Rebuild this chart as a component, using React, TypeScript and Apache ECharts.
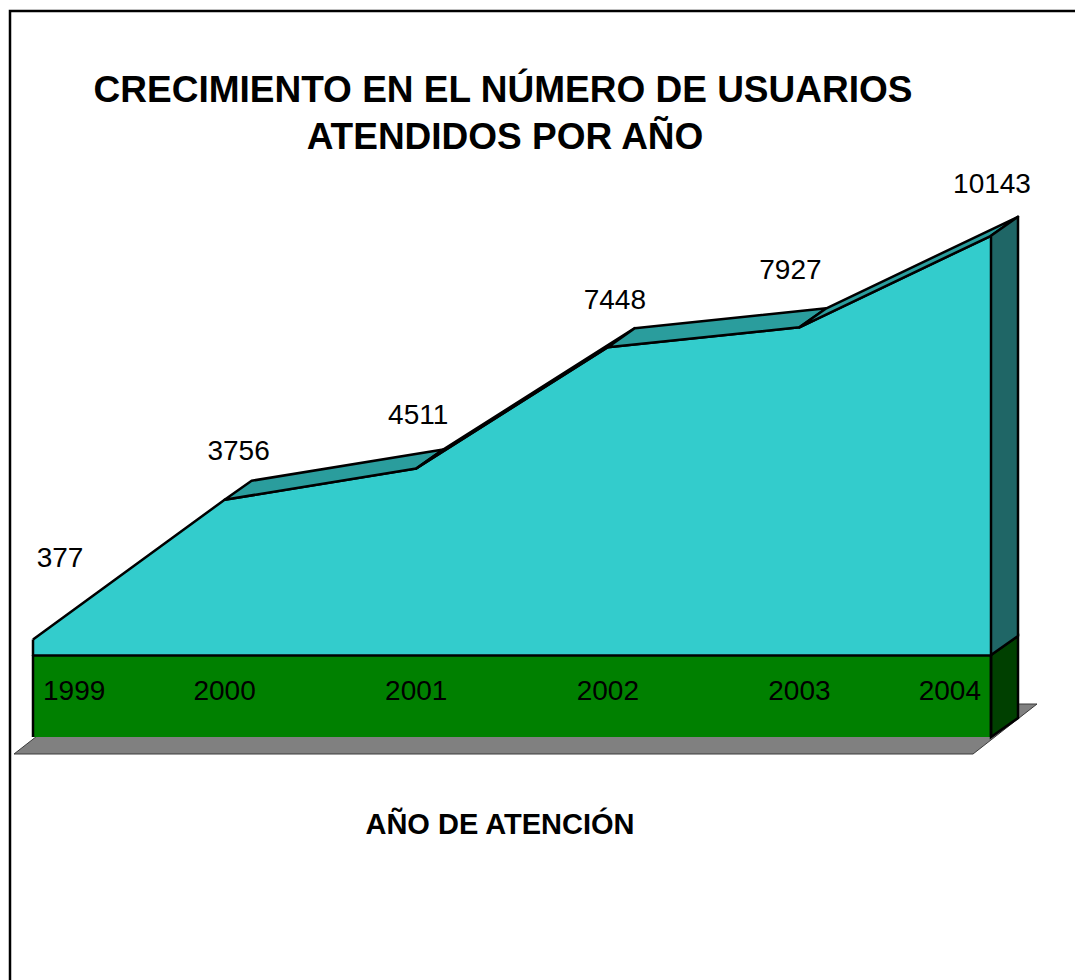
import React, { useEffect, useRef } from 'react';
import * as echarts from 'echarts';

const CATEGORIES = ['1999', '2000', '2001', '2002', '2003', '2004'];
const USERS = [377, 3756, 4511, 7448, 7927, 10143];
const TITLE_LINES = ['CRECIMIENTO EN EL NÚMERO DE USUARIOS', 'ATENDIDOS POR AÑO'];
const X_TITLE = 'AÑO DE ATENCIÓN';
const Y_MIN = 0;
const Y_MAX = 12000;

// label placement tweaks (style, not data)
const LABEL_OFFSETS = [[27, -67], [14, -35], [2, -40], [7, -33], [-9, -43], [1, -38]];

const DX = 27;
const DY = -19;
const BAND = 82;
const LW = 2.5;
const FONT = "'Liberation Sans', Arial, Helvetica, sans-serif";

const n = CATEGORIES.length;

function renderBase(params: any, api: any) {
  const p0 = api.coord([0, 0]);
  const p1 = api.coord([n - 1, 0]);
  const x0 = p0[0];
  const x1 = p1[0];
  const yb = p0[1];
  return {
    type: 'group',
    children: [
      {
        type: 'polygon',
        shape: { points: [[x0 - 19, yb + 99], [x1 - 18, yb + 99], [x1 + 46, yb + 49], [x0 + 45, yb + 49]] },
        style: { fill: '#808080', stroke: '#3a3a3a', lineWidth: 1 },
      },
      {
        type: 'rect',
        shape: { x: x0, y: yb, width: x1 - x0, height: BAND },
        style: { fill: '#008000' },
      },
      {
        type: 'polygon',
        shape: { points: [[x1, yb], [x1 + DX, yb + DY], [x1 + DX, yb + BAND + DY], [x1, yb + BAND]] },
        style: { fill: '#004000', stroke: '#000', lineWidth: LW },
      },
      {
        type: 'line',
        shape: { x1: x0, y1: yb, x2: x0, y2: yb + BAND },
        style: { stroke: '#000', lineWidth: LW },
      },
      {
        type: 'line',
        shape: { x1: x1, y1: yb, x2: x1, y2: yb + BAND },
        style: { stroke: '#000', lineWidth: LW },
      },
    ],
  };
}

function renderFaces(params: any, api: any) {
  const i = params.dataIndex;
  const p = api.coord([i, USERS[i]]);
  const base = api.coord([i, 0]);
  const children: any[] = [];
  if (i === 0) {
    children.push({
      type: 'line',
      shape: { x1: p[0], y1: p[1], x2: base[0], y2: base[1] },
      style: { stroke: '#000', lineWidth: LW },
    });
  }
  if (i < n - 1) {
    const q = api.coord([i + 1, USERS[i + 1]]);
    const dx = q[0] - p[0];
    const dy = q[1] - p[1];
    if (dx * DY - dy * DX < 0) {
      children.push({
        type: 'polygon',
        shape: { points: [[p[0], p[1]], [q[0], q[1]], [q[0] + DX, q[1] + DY], [p[0] + DX, p[1] + DY]] },
        style: { fill: '#2A9D9D', stroke: '#000', lineWidth: LW, lineJoin: 'round' },
      });
    }
  } else {
    children.push({
      type: 'polygon',
      shape: { points: [[p[0], p[1]], [p[0] + DX, p[1] + DY], [base[0] + DX, base[1] + DY], [base[0], base[1]]] },
      style: { fill: '#1F6666', stroke: '#000', lineWidth: LW, lineJoin: 'round' },
    });
  }
  return { type: 'group', children };
}

export default function App() {
  const ref = useRef<HTMLDivElement>(null);
  useEffect(() => {
    if (!ref.current) return;
    const chart = echarts.init(ref.current, null, { renderer: 'svg' });
    const option: any = {
      animation: false,
      backgroundColor: '#fff',
      grid: { left: 33, right: 84, top: 159, bottom: 325, containLabel: false },
      xAxis: {
        type: 'category',
        data: CATEGORIES,
        boundaryGap: false,
        z: 10,
        axisLine: { show: true, lineStyle: { color: '#000', width: LW } },
        axisTick: { show: false },
        splitLine: { show: false },
        axisLabel: {
          fontSize: 28,
          color: '#000',
          fontFamily: FONT,
          margin: 21,
          alignMinLabel: 'left',
          alignMaxLabel: 'right',
          padding: [0, 10, 0, 10],
        },
        name: X_TITLE,
        nameLocation: 'middle',
        nameGap: 154,
        nameTextStyle: {
          fontSize: 29,
          fontWeight: 'bold',
          color: '#000',
          fontFamily: FONT,
          padding: [0, 24, 0, 0],
        },
      },
      yAxis: { type: 'value', min: Y_MIN, max: Y_MAX, show: false, splitLine: { show: false } },
      graphic: [
        {
          type: 'polyline',
          silent: true,
          shape: { points: [[1090, 11], [10, 11], [10, 995]] },
          style: { stroke: '#000', lineWidth: 2.5, fill: null },
        },
        {
          type: 'text',
          x: 503,
          y: 89,
          style: {
            text: TITLE_LINES[0],
            fontSize: 37,
            fontWeight: 'bold',
            fontFamily: FONT,
            fill: '#000',
            textAlign: 'center',
            textVerticalAlign: 'middle',
          },
        },
        {
          type: 'text',
          x: 505,
          y: 136,
          style: {
            text: TITLE_LINES[1],
            fontSize: 37,
            fontWeight: 'bold',
            fontFamily: FONT,
            fill: '#000',
            textAlign: 'center',
            textVerticalAlign: 'middle',
          },
        },
      ],
      series: [
        {
          type: 'custom',
          name: 'base',
          z: 1,
          silent: true,
          clip: false,
          data: [[0, 0]],
          renderItem: renderBase,
        },
        {
          type: 'line',
          name: 'Usuarios',
          z: 2,
          silent: true,
          symbol: 'circle',
          symbolSize: 1,
          itemStyle: { color: 'rgba(0,0,0,0)' },
          lineStyle: { color: '#000', width: LW },
          areaStyle: { color: '#33CCCC', opacity: 1 },
          data: USERS.map((v, i) => ({
            value: v,
            label: { offset: LABEL_OFFSETS[i] },
          })),
          label: {
            show: true,
            position: 'top',
            distance: 0,
            fontSize: 28,
            color: '#000',
            fontFamily: FONT,
          },
        },
        {
          type: 'custom',
          name: 'faces',
          z: 3,
          silent: true,
          clip: false,
          data: USERS.map((v, i) => [i, v]),
          renderItem: renderFaces,
        },
      ],
    };
    chart.setOption(option);
    return () => chart.dispose();
  }, []);
  return (
    <div
      ref={ref}
      style={{ position: 'absolute', left: 0, top: 0, width: 1075, height: 980 }}
    />
  );
}
